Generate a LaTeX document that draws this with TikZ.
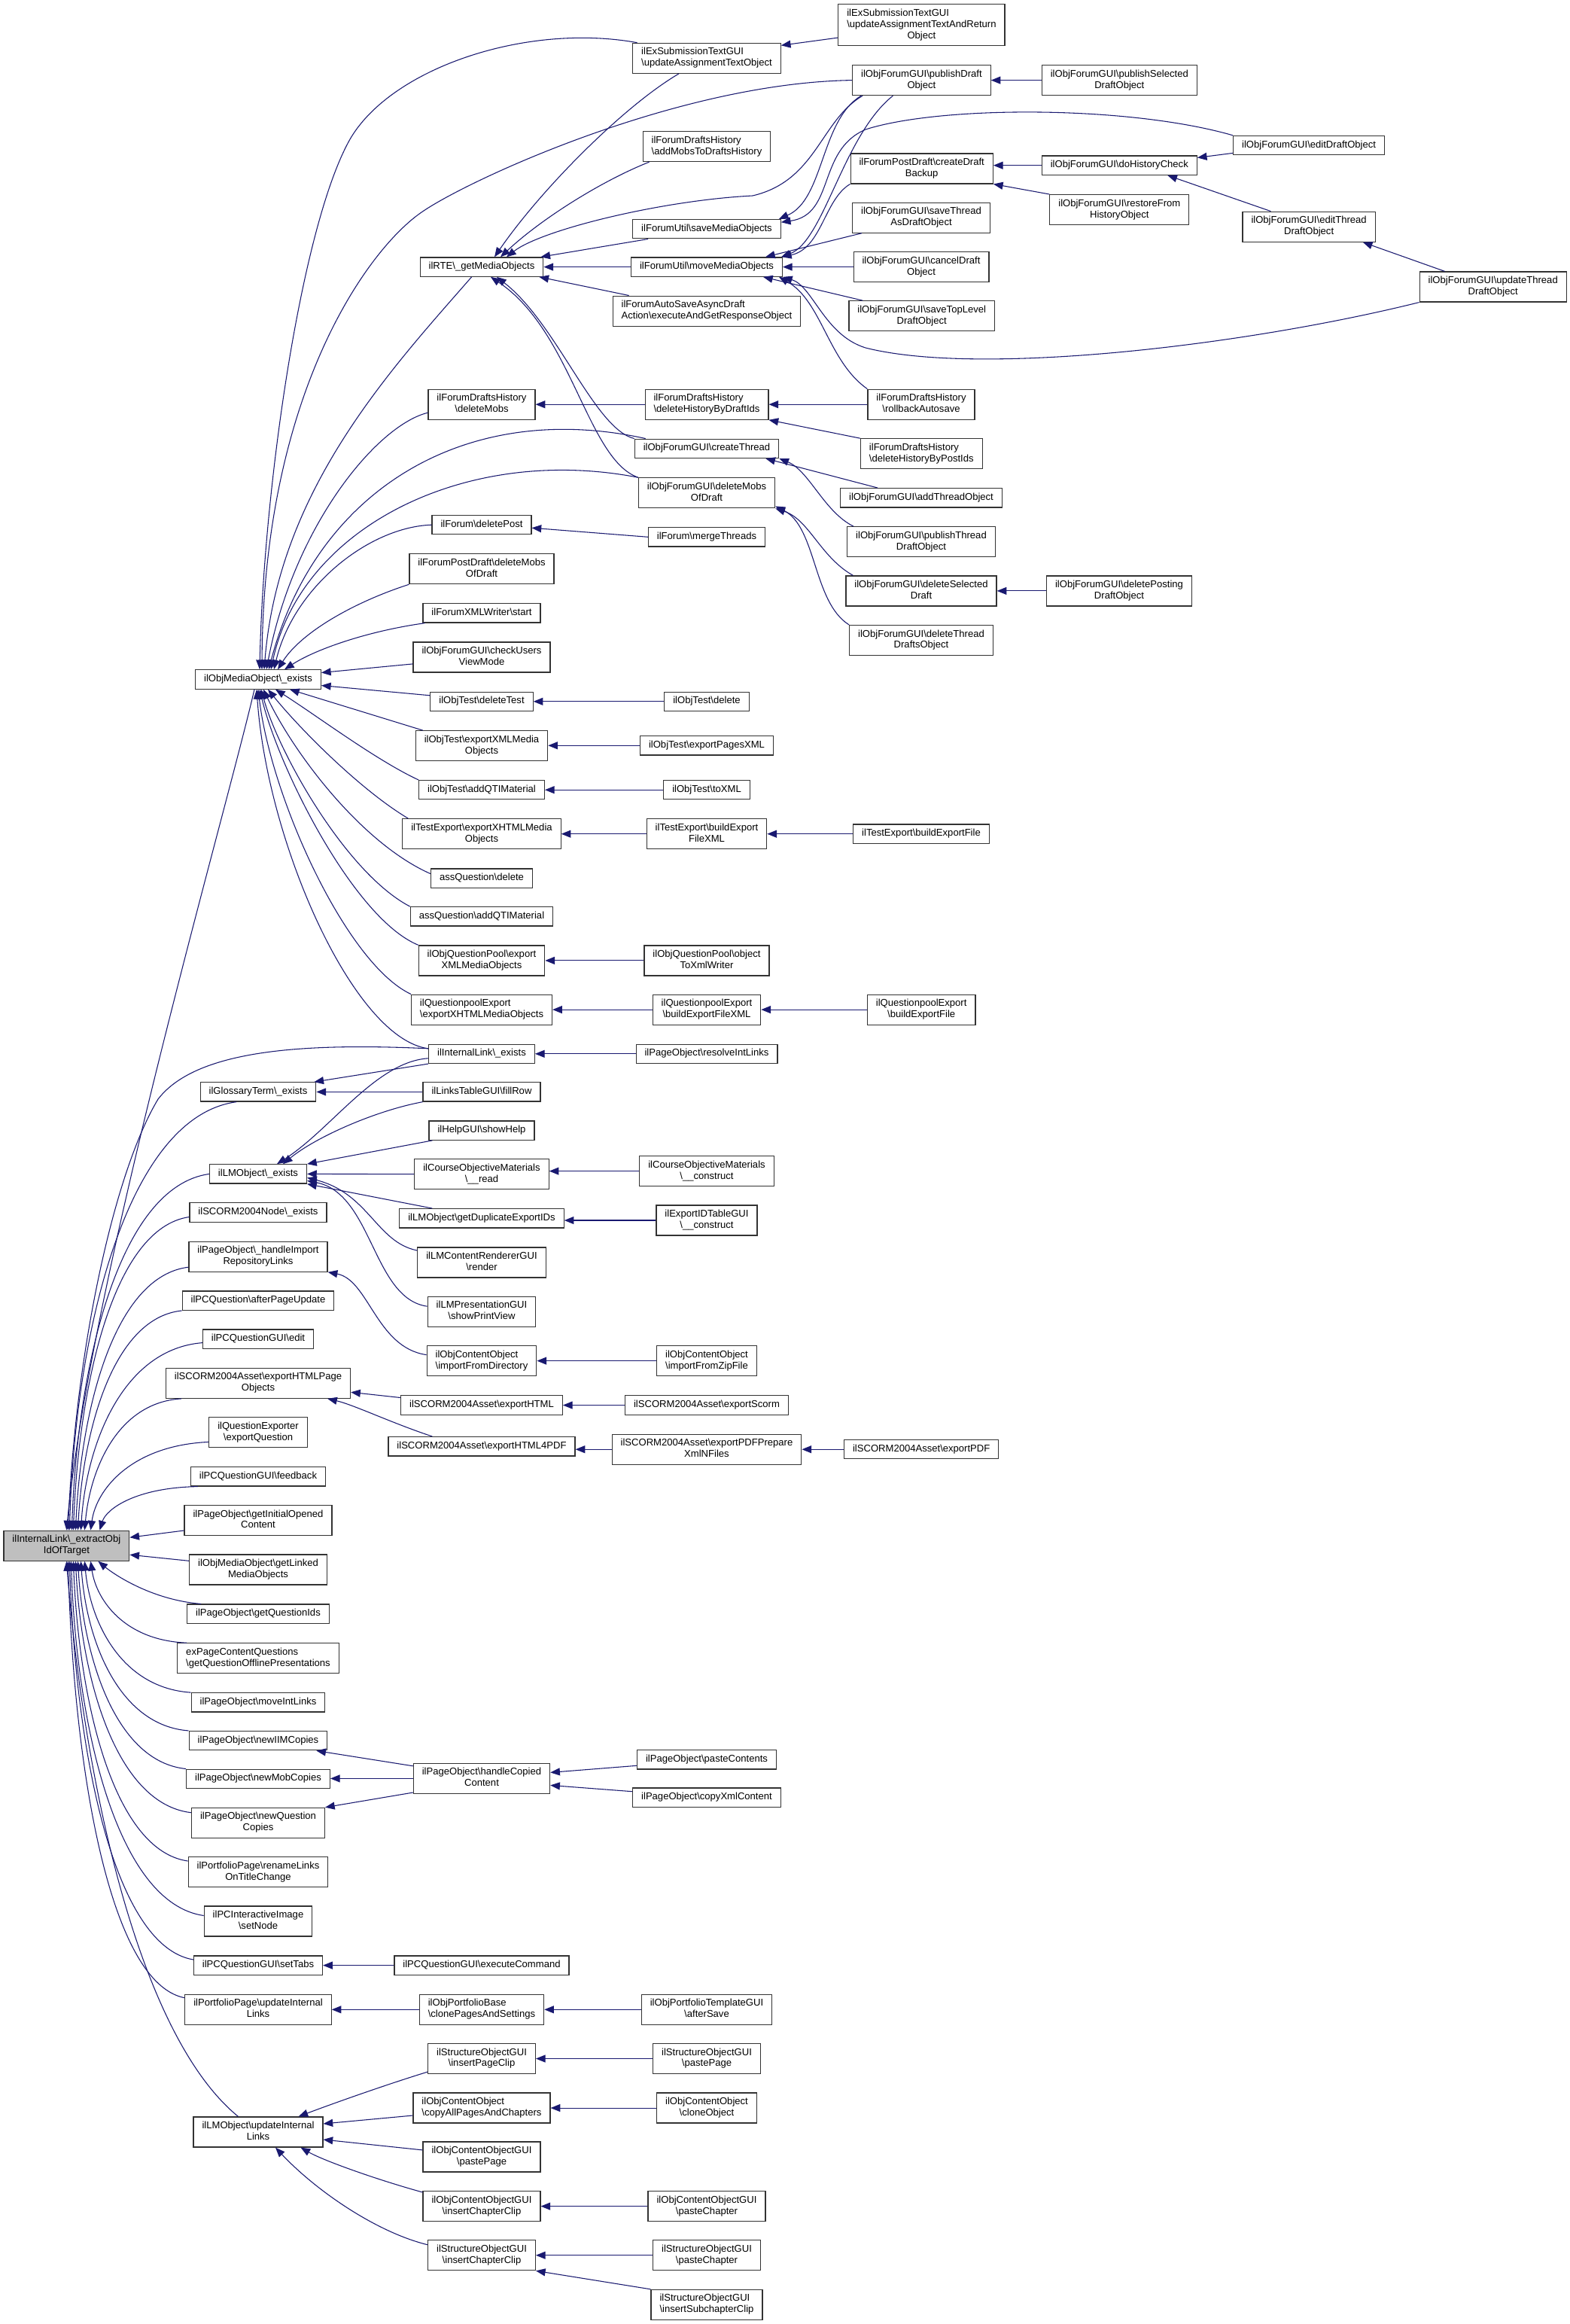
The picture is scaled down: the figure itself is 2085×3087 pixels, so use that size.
\documentclass[tikz,border=0pt]{standalone}
\usepackage{fontspec}
\setmainfont{Liberation Sans}
\usetikzlibrary{arrows.meta,calc}
\definecolor{edgeblue}{RGB}{25,25,112}
\newcommand{\nodefont}{\fontsize{9.8pt}{11.2pt}\selectfont}
\newcommand{\bsx}{\textbackslash}
\newcommand{\oneL}[1]{\begin{tabular}{@{}c@{}}#1\end{tabular}}
\newcommand{\twoL}[2]{\begin{tabular}{@{}l@{}}#1\\\multicolumn{1}{@{}c@{}}{#2}\end{tabular}}
\newcommand{\threeL}[3]{\begin{tabular}{@{}l@{}}#1\\#2\\\multicolumn{1}{@{}c@{}}{#3}\end{tabular}}
\tikzset{
  box/.style={draw=black!80, line width=0.9pt, fill=white, inner xsep=8.6pt, inner ysep=0pt, font=\nodefont},
  l1/.style={box, minimum height=19pt},
  l2/.style={box, minimum height=30pt},
  l3/.style={box, minimum height=41pt},
  call/.style={draw=edgeblue, line width=0.8pt, -{Triangle[length=9.5pt,width=7.5pt]}, fill=none},
}
\begin{document}
\begin{tikzpicture}[x=0.75pt,y=-0.75pt]
\fill[white] (0,0) rectangle (2085,3087);
\useasboundingbox (0,0) rectangle (2085,3087);

% ---------- column 1
\node[l2, fill=black!25] (E) at (88.4,2053.2) {\twoL{ilInternalLink\bsx\_extractObj}{IdOfTarget}};

% ---------- column 2
\node[l1] (M) at (343,902.5) {\oneL{ilObjMediaObject\bsx\_exists}};
\node[l1] (GT) at (343,1450.4) {\oneL{ilGlossaryTerm\bsx\_exists}};
\node[l1] (LMe) at (343,1559.4) {\oneL{ilLMObject\bsx\_exists}};
\node[l1] (SCn) at (343,1610.5) {\oneL{ilSCORM2004Node\bsx\_exists}};
\node[l2] (hIR) at (343,1669.2) {\twoL{ilPageObject\bsx\_handleImport}{RepositoryLinks}};
\node[l1] (PCu) at (343,1727.7) {\oneL{ilPCQuestion\bsx afterPageUpdate}};
\node[l1] (PCe) at (343,1778.6) {\oneL{ilPCQuestionGUI\bsx edit}};
\node[l2] (eHP) at (343,1837.3) {\twoL{ilSCORM2004Asset\bsx exportHTMLPage}{Objects}};
\node[l2] (QE) at (343,1902.8) {\twoL{ilQuestionExporter}{\bsx exportQuestion}};
\node[l1] (PCf) at (343,1961.3) {\oneL{ilPCQuestionGUI\bsx feedback}};
\node[l2] (gIO) at (343,2019.5) {\twoL{ilPageObject\bsx getInitialOpened}{Content}};
\node[l2] (gLM) at (343,2085) {\twoL{ilObjMediaObject\bsx getLinked}{MediaObjects}};
\node[l1] (gQI) at (343,2143.7) {\oneL{ilPageObject\bsx getQuestionIds}};
\node[l2] (exP) at (343,2202.8) {\twoL{exPageContentQuestions}{\bsx getQuestionOfflinePresentations}};
\node[l1] (mIL) at (343,2261.4) {\oneL{ilPageObject\bsx moveIntLinks}};
\node[l1] (nIIM) at (343,2312.2) {\oneL{ilPageObject\bsx newIIMCopies}};
\node[l1] (nMob) at (343,2362.8) {\oneL{ilPageObject\bsx newMobCopies}};
\node[l2] (nQC) at (343,2421.3) {\twoL{ilPageObject\bsx newQuestion}{Copies}};
\node[l2] (rLT) at (343,2486.6) {\twoL{ilPortfolioPage\bsx renameLinks}{OnTitleChange}};
\node[l2] (sN) at (343,2551.9) {\twoL{ilPCInteractiveImage}{\bsx setNode}};
\node[l1] (sT) at (343,2610.6) {\oneL{ilPCQuestionGUI\bsx setTabs}};
\node[l2] (pUI) at (343,2669.3) {\twoL{ilPortfolioPage\bsx updateInternal}{Links}};
\node[l2] (lUI) at (343,2832) {\twoL{ilLMObject\bsx updateInternal}{Links}};

% ---------- column 3
\node[l1] (ilRTE) at (640,354.6) {\oneL{ilRTE\bsx\_getMediaObjects}};
\node[l2] (FDHdm) at (640,537.2) {\twoL{ilForumDraftsHistory}{\bsx deleteMobs}};
\node[l1] (DP) at (640,697.2) {\oneL{ilForum\bsx deletePost}};
\node[l2] (FPDd) at (640,755.7) {\twoL{ilForumPostDraft\bsx deleteMobs}{OfDraft}};
\node[l1] (FXW) at (640,814.4) {\oneL{ilForumXMLWriter\bsx start}};
\node[l2] (CUV) at (640,872.9) {\twoL{ilObjForumGUI\bsx checkUsers}{ViewMode}};
\node[l1] (DT) at (640,931.8) {\oneL{ilObjTest\bsx deleteTest}};
\node[l2] (TXM) at (640,990.7) {\twoL{ilObjTest\bsx exportXMLMedia}{Objects}};
\node[l1] (TAQ) at (640,1049.2) {\oneL{ilObjTest\bsx addQTIMaterial}};
\node[l2] (TEX) at (640,1107.7) {\twoL{ilTestExport\bsx exportXHTMLMedia}{Objects}};
\node[l1] (AQD) at (640,1166.6) {\oneL{assQuestion\bsx delete}};
\node[l1] (AQQ) at (640,1217.4) {\oneL{assQuestion\bsx addQTIMaterial}};
\node[l2] (QPX) at (640,1275.9) {\twoL{ilObjQuestionPool\bsx export}{XMLMediaObjects}};
\node[l2] (QEX) at (640,1341.1) {\twoL{ilQuestionpoolExport}{\bsx exportXHTMLMediaObjects}};
\node[l1] (ILe) at (640,1399.8) {\oneL{ilInternalLink\bsx\_exists}};
\node[l1] (LTf) at (640,1450.4) {\oneL{ilLinksTableGUI\bsx fillRow}};
\node[l1] (HGs) at (640,1501.6) {\oneL{ilHelpGUI\bsx showHelp}};
\node[l2] (COr) at (640,1559.6) {\twoL{ilCourseObjectiveMaterials}{\bsx\_\_read}};
\node[l1] (gDE) at (640,1618.3) {\oneL{ilLMObject\bsx getDuplicateExportIDs}};
\node[l2] (LCR) at (640,1677) {\twoL{ilLMContentRendererGUI}{\bsx render}};
\node[l2] (LPs) at (640,1742.2) {\twoL{ilLMPresentationGUI}{\bsx showPrintView}};
\node[l2] (iFD) at (640,1807.6) {\twoL{ilObjContentObject}{\bsx importFromDirectory}};
\node[l1] (eH) at (640,1866.5) {\oneL{ilSCORM2004Asset\bsx exportHTML}};
\node[l1] (eH4) at (640,1921.3) {\oneL{ilSCORM2004Asset\bsx exportHTML4PDF}};
\node[l2] (hCC) at (640,2362.4) {\twoL{ilPageObject\bsx handleCopied}{Content}};
\node[l1] (eC) at (640,2610.6) {\oneL{ilPCQuestionGUI\bsx executeCommand}};
\node[l2] (cPS) at (640,2669.3) {\twoL{ilObjPortfolioBase}{\bsx clonePagesAndSettings}};
\node[l2] (iPC) at (640,2734.5) {\twoL{ilStructureObjectGUI}{\bsx insertPageClip}};
\node[l2] (cAP) at (640,2800) {\twoL{ilObjContentObject}{\bsx copyAllPagesAndChapters}};
\node[l2] (cgP) at (640,2864.9) {\twoL{ilObjContentObjectGUI}{\bsx pastePage}};
\node[l2] (cgI) at (640,2930.6) {\twoL{ilObjContentObjectGUI}{\bsx insertChapterClip}};
\node[l2] (sgI) at (640,2995.7) {\twoL{ilStructureObjectGUI}{\bsx insertChapterClip}};

% ---------- column 4
\node[l2] (UATO) at (939,77.3) {\twoL{ilExSubmissionTextGUI}{\bsx updateAssignmentTextObject}};
\node[l2] (ADH) at (939,194.6) {\twoL{ilForumDraftsHistory}{\bsx addMobsToDraftsHistory}};
\node[l1] (SMO) at (939,304.2) {\oneL{ilForumUtil\bsx saveMediaObjects}};
\node[l1] (MMO) at (939,354.6) {\oneL{ilForumUtil\bsx moveMediaObjects}};
\node[l2] (ASD) at (939,413.1) {\twoL{ilForumAutoSaveAsyncDraft}{Action\bsx executeAndGetResponseObject}};
\node[l2] (DHD) at (939,537.2) {\twoL{ilForumDraftsHistory}{\bsx deleteHistoryByDraftIds}};
\node[l1] (CT) at (939,595.8) {\oneL{ilObjForumGUI\bsx createThread}};
\node[l2] (DMD) at (939,654.8) {\twoL{ilObjForumGUI\bsx deleteMobs}{OfDraft}};
\node[l1] (MT) at (939,713.3) {\oneL{ilForum\bsx mergeThreads}};
\node[l1] (Td) at (939,931.8) {\oneL{ilObjTest\bsx delete}};
\node[l1] (TPX) at (939,990.3) {\oneL{ilObjTest\bsx exportPagesXML}};
\node[l1] (TtX) at (939,1049.2) {\oneL{ilObjTest\bsx toXML}};
\node[l2] (TBX) at (939,1107.7) {\twoL{ilTestExport\bsx buildExport}{FileXML}};
\node[l2] (QPo) at (939,1275.9) {\twoL{ilObjQuestionPool\bsx object}{ToXmlWriter}};
\node[l2] (QBX) at (939,1341.1) {\twoL{ilQuestionpoolExport}{\bsx buildExportFileXML}};
\node[l1] (PrI) at (939,1399.8) {\oneL{ilPageObject\bsx resolveIntLinks}};
\node[l2] (COc) at (939,1555.6) {\twoL{ilCourseObjectiveMaterials}{\bsx\_\_construct}};
\node[l2] (EIc) at (939,1621) {\twoL{ilExportIDTableGUI}{\bsx\_\_construct}};
\node[l2] (iZF) at (939,1807.6) {\twoL{ilObjContentObject}{\bsx importFromZipFile}};
\node[l1] (eS) at (939,1866.5) {\oneL{ilSCORM2004Asset\bsx exportScorm}};
\node[l2] (ePX) at (939,1925.2) {\twoL{ilSCORM2004Asset\bsx exportPDFPrepare}{XmlNFiles}};
\node[l1] (pC) at (939,2337.3) {\oneL{ilPageObject\bsx pasteContents}};
\node[l1] (cXC) at (939,2387.7) {\oneL{ilPageObject\bsx copyXmlContent}};
\node[l2] (aS) at (939,2669.3) {\twoL{ilObjPortfolioTemplateGUI}{\bsx afterSave}};
\node[l2] (sPP) at (939,2734.5) {\twoL{ilStructureObjectGUI}{\bsx pastePage}};
\node[l2] (cO) at (939,2800) {\twoL{ilObjContentObject}{\bsx cloneObject}};
\node[l2] (cgPC) at (939,2930.6) {\twoL{ilObjContentObjectGUI}{\bsx pasteChapter}};
\node[l2] (sPC) at (939,2995.7) {\twoL{ilStructureObjectGUI}{\bsx pasteChapter}};
\node[l2] (sSC) at (939,3061.4) {\twoL{ilStructureObjectGUI}{\bsx insertSubchapterClip}};

% ---------- column 5
\node[l3] (UATR) at (1224.4,33.1) {\threeL{ilExSubmissionTextGUI}{\bsx updateAssignmentTextAndReturn}{Object}};
\node[l2] (PDO) at (1224.4,106.6) {\twoL{ilObjForumGUI\bsx publishDraft}{Object}};
\node[l2] (CDB) at (1224.7,223.9) {\twoL{ilForumPostDraft\bsx createDraft}{Backup}};
\node[l2] (STD) at (1224,289.1) {\twoL{ilObjForumGUI\bsx saveThread}{AsDraftObject}};
\node[l2] (CDO) at (1224,354.6) {\twoL{ilObjForumGUI\bsx cancelDraft}{Object}};
\node[l2] (STL) at (1224.7,419.8) {\twoL{ilObjForumGUI\bsx saveTopLevel}{DraftObject}};
\node[l2] (RA) at (1224,537.2) {\twoL{ilForumDraftsHistory}{\bsx rollbackAutosave}};
\node[l2] (DHP) at (1224.3,602.8) {\twoL{ilForumDraftsHistory}{\bsx deleteHistoryByPostIds}};
\node[l1] (ATO) at (1224,661.3) {\oneL{ilObjForumGUI\bsx addThreadObject}};
\node[l2] (PTD) at (1224,719.8) {\twoL{ilObjForumGUI\bsx publishThread}{DraftObject}};
\node[l2] (DSD) at (1224,784.9) {\twoL{ilObjForumGUI\bsx deleteSelected}{Draft}};
\node[l2] (DTD) at (1224,850.5) {\twoL{ilObjForumGUI\bsx deleteThread}{DraftsObject}};
\node[l1] (TBF) at (1224,1107.7) {\oneL{ilTestExport\bsx buildExportFile}};
\node[l2] (QBF) at (1224.2,1341.1) {\twoL{ilQuestionpoolExport}{\bsx buildExportFile}};
\node[l1] (ePDF) at (1224.2,1925.2) {\oneL{ilSCORM2004Asset\bsx exportPDF}};

% ---------- columns 6-8
\node[l2] (PSD) at (1487.3,106.6) {\twoL{ilObjForumGUI\bsx publishSelected}{DraftObject}};
\node[l1] (DHC) at (1487.3,219.7) {\oneL{ilObjForumGUI\bsx doHistoryCheck}};
\node[l2] (RFH) at (1487.3,278.6) {\twoL{ilObjForumGUI\bsx restoreFrom}{HistoryObject}};
\node[l2] (DPD) at (1487,784.9) {\twoL{ilObjForumGUI\bsx deletePosting}{DraftObject}};
\node[l1] (EDO) at (1739.1,193.1) {\oneL{ilObjForumGUI\bsx editDraftObject}};
\node[l2] (ETD) at (1739.1,301.2) {\twoL{ilObjForumGUI\bsx editThread}{DraftObject}};
\node[l2] (UTD) at (1983.7,381) {\twoL{ilObjForumGUI\bsx updateThread}{DraftObject}};

% ================= edges
% right-hand forum part
\draw[call] ($(UATR.west)+(0,17)$) -- ($(UATO.east)+(0,-17)$);
\draw[call] (PSD.west) -- (PDO.east);
\draw[call] (DHC.west) -- (DHC.west -| CDB.east);
\draw[call] (RFH.north west) -- (CDB.south east);
\draw[call] ($(EDO.south west)+(0,-3)$) -- ($(DHC.north east)+(0,3)$);
\draw[call] ($(ETD.north west)+(38,0)$) -- ($(DHC.south)+(64,0)$);
\draw[call] ($(UTD.north west)+(34,0)$) -- ($(ETD.south east)+(-17,0)$);
\draw[call] (DHD.west) -- (FDHdm.east);
\draw[call] (RA.west) -- (DHD.east);
\draw[call] (DHP.north west) -- (DHD.south east);
\draw[call] ($(ATO.north west)+(50,0)$) -- ($(CT.south east)+(-18,0)$);
\draw[call] ($(PTD.north west)+(9,0)$) .. controls (1095,680) and (1075,625) .. (CT.south east);
\draw[call] ($(DSD.north west)+(10,0)$) .. controls (1090,740) and (1075,690) .. (DMD.south east);
\draw[call] (DTD.north west) .. controls (1080,800) and (1085,700) .. ($(DMD.south east)+(0,-3)$);
\draw[call] (DPD.west) -- (DSD.east);
\draw[call] (MT.west) -- ($(DP.east)+(0,4)$);

% into ilRTE
\draw[call] ($(UATO.south)+(-37,0)$) .. controls (830,140) and (720,250) .. ($(ilRTE.north)+(17,0)$);
\draw[call] ($(ADH.south west)+(9,0)$) .. controls (800,240) and (720,290) .. ($(ilRTE.north)+(25,0)$);
\draw[call] ($(PDO.south west)+(14,0)$) .. controls (1090,160) and (1085,240) .. (1000,260) .. controls (880,266) and (720,305) .. ($(ilRTE.north)+(33,0)$);
\draw[call] ($(SMO.south west)+(21,0)$) -- ($(ilRTE.north east)+(-4,0)$);
\draw[call] (MMO.west) -- (ilRTE.east);
\draw[call] ($(ASD.north west)+(22,0)$) -- ($(ilRTE.south east)+(-6,0)$);
\draw[call] (CT.north west) .. controls (790,570) and (740,430) .. ($(ilRTE.south)+(20,0)$);
\draw[call] (DMD.north west) .. controls (780,610) and (760,440) .. ($(ilRTE.south)+(12,0)$);

% into saveMediaObjects / moveMediaObjects
\draw[call] ($(PDO.south west)+(12,0)$) .. controls (1090,160) and (1095,265) .. ($(SMO.north east)+(-3,0)$);
\draw[call] (EDO.north west) .. controls (1500,140) and (1250,140) .. (1150,172) .. controls (1085,200) and (1110,285) .. ($(SMO.east)+(0,-9)$);
\draw[call] ($(PDO.south)+(-38,0)$) .. controls (1120,180) and (1095,320) .. ($(MMO.north east)+(-2,0)$);
\draw[call] (CDB.south west) .. controls (1095,265) and (1092,330) .. ($(MMO.north east)+(-1,0)$);
\draw[call] ($(STD.south west)+(13,0)$) -- ($(MMO.north east)+(-23,0)$);
\draw[call] (CDO.west) -- (MMO.east);
\draw[call] ($(STL.north west)+(19,0)$) -- ($(MMO.south east)+(-26,0)$);
\draw[call] (UTD.south west) .. controls (1650,460) and (1300,500) .. (1150,462) .. controls (1095,445) and (1080,380) .. (MMO.south east);
\draw[call] (RA.north west) .. controls (1100,480) and (1092,400) .. ($(MMO.south east)+(-5,0)$);

% test / question part
\draw[call] (Td.west) -- (DT.east);
\draw[call] (TPX.west) -- (TPX.west -| TXM.east);
\draw[call] (TtX.west) -- (TAQ.east);
\draw[call] (TBX.west) -- (TEX.east);
\draw[call] (TBF.west) -- (TBX.east);
\draw[call] (QPo.west) -- (QPX.east);
\draw[call] (QBX.west) -- (QEX.east);
\draw[call] (QBF.west) -- (QBX.east);
\draw[call] (PrI.west) -- (ILe.east);

% glossary / LM
\draw[call] (LTf.west) -- (LTf.west -| GT.east);
\draw[call] (ILe.south west) -- ($(GT.north east)+(-3,0)$);
\draw[call] ($(ILe.west)+(0,6)$) .. controls (500,1410) and (440,1500) .. ($(LMe.north)+(25,0)$);
\draw[call] (LTf.south west) .. controls (500,1475) and (420,1510) .. ($(LMe.north)+(33,0)$);
\draw[call] ($(HGs.south west)+(5,0)$) -- (LMe.north east);
\draw[call] (COr.west) -- (LMe.east);
\draw[call] ($(gDE.north west)+(44,0)$) -- (LMe.south east);
\draw[call] ($(LCR.west)+(0,-16)$) .. controls (500,1650) and (490,1585) .. ($(LMe.east)+(0,5)$);
\draw[call] ($(LPs.west)+(0,-7)$) .. controls (495,1725) and (495,1585) .. ($(LMe.east)+(0,9)$);
\draw[call] (COc.west) -- (COc.west -| COr.east);
\draw[call] (EIc.west) -- (EIc.west -| gDE.east);
\draw[call] ($(iFD.west)+(0,-8)$) .. controls (500,1790) and (490,1700) .. (hIR.south east);
\draw[call] (iZF.west) -- (iFD.east);

% SCORM
\draw[call] ($(eH.west)+(0,-10)$) -- ($(eHP.east)+(0,12)$);
\draw[call] ($(eH4.north west)+(59,0)$) .. controls (520,1890) and (470,1866) .. ($(eHP.south east)+(-31,0)$);
\draw[call] (eS.west) -- (eH.east);
\draw[call] (ePX.west) -- (ePX.west -| eH4.east);
\draw[call] (ePDF.west) -- (ePX.east);

% page object copies
\draw[call] ($(hCC.north west)+(0,4)$) -- ($(nIIM.south east)+(-15,0)$);
\draw[call] (hCC.west) -- (hCC.west -| nMob.east);
\draw[call] ($(hCC.south west)+(0,-2)$) -- (nQC.north east);
\draw[call] ($(pC.west)+(0,8)$) -- ($(hCC.east)+(0,-8)$);
\draw[call] ($(cXC.west)+(0,-8)$) -- ($(hCC.east)+(0,9)$);

% portfolio / LM update
\draw[call] (eC.west) -- (sT.east);
\draw[call] (cPS.west) -- (pUI.east);
\draw[call] (aS.west) -- (cPS.east);
\draw[call] ($(iPC.south west)+(0,-3)$) .. controls (510,2770) and (440,2795) .. ($(lUI.north east)+(-33,0)$);
\draw[call] ($(cAP.west)+(0,10)$) -- ($(lUI.east)+(0,-11)$);
\draw[call] ($(cgP.west)+(0,-9)$) -- ($(lUI.east)+(0,10)$);
\draw[call] ($(cgI.north west)+(0,2)$) .. controls (500,2895) and (430,2870) .. ($(lUI.south east)+(-30,0)$);
\draw[call] ($(sgI.west)+(0,-14)$) .. controls (500,2965) and (420,2910) .. ($(lUI.south)+(23,0)$);
\draw[call] (sPP.west) -- (iPC.east);
\draw[call] (cO.west) -- (cAP.east);
\draw[call] (cgPC.west) -- (cgI.east);
\draw[call] (sPC.west) -- (sgI.east);
\draw[call] (sSC.north west) -- (sgI.south east);

% into ilObjMediaObject::_exists
\draw[call] ($(UATO.north west)+(6.5,0)$) .. controls (700,30) and (520,90) .. (465,185) .. controls (400,300) and (350,650) .. ($(M.north)+(2,0)$);
\draw[call] (PDO.west) .. controls (900,110) and (620,240) .. (560,282) .. controls (490,330) and (350,520) .. ($(M.north)+(5,0)$);
\draw[call] ($(ilRTE.south west)+(69,0)$) .. controls (520,490) and (370,650) .. ($(M.north)+(8,0)$);
\draw[call] ($(FDHdm.west)+(0,11)$) .. controls (500,565) and (390,700) .. ($(M.north)+(11,0)$);
\draw[call] ($(CT.north west)+(15,0)$) .. controls (620,530) and (420,650) .. ($(M.north)+(14,0)$);
\draw[call] (DMD.north west) .. controls (620,590) and (400,700) .. ($(M.north)+(17,0)$);
\draw[call] (DP.west) .. controls (490,700) and (390,780) .. ($(M.north)+(21,0)$);
\draw[call] (FPDd.south west) .. controls (470,800) and (400,840) .. ($(M.north)+(26,0)$);
\draw[call] ($(FXW.south west)+(3,0)$) .. controls (490,838) and (420,862) .. ($(M.north)+(35,0)$);
\draw[call] ($(CUV.west)+(0,9)$) -- ($(M.east)+(0,-9)$);
\draw[call] ($(DT.west)+(0,-8)$) -- ($(M.east)+(0,8)$);
\draw[call] ($(TXM.north west)+(10,0)$) -- ($(M.south east)+(-42,0)$);
\draw[call] (TAQ.north west) .. controls (500,1010) and (420,950) .. ($(M.south)+(23,0)$);
\draw[call] ($(TEX.north west)+(8,0)$) .. controls (480,1050) and (400,970) .. ($(M.south)+(13,0)$);
\draw[call] ($(AQD.west)+(0,-6)$) .. controls (480,1120) and (390,1000) .. ($(M.south)+(7,0)$);
\draw[call] (AQQ.north west) .. controls (460,1160) and (370,1000) .. ($(M.south)+(4,0)$);
\draw[call] (QPX.north west) .. controls (470,1220) and (370,1020) .. ($(M.south)+(2,0)$);
\draw[call] (QEX.north west) .. controls (460,1280) and (360,1060) .. (M.south);
\draw[call] ($(ILe.west)+(0,-7)$) .. controls (470,1380) and (355,1120) .. ($(M.south)+(-2,0)$);

% into ilInternalLink::_extractObjIdOfTarget
\draw[call] ($(M.south)+(-5,0)$) .. controls (300,1080) and (120,1700) .. (E.north);
\draw[call] ($(ILe.west)+(0,-7)$) .. controls (400,1385) and (260,1395) .. (210,1460) .. controls (150,1560) and (100,1800) .. ($(E.north)+(2,0)$);
\draw[call] ($(GT.south west)+(48.5,0)$) .. controls (170,1483) and (100,1765) .. ($(E.north)+(4,0)$);
\draw[call] (LMe.west) .. controls (159,1576) and (103,1810) .. ($(E.north)+(7,0)$);
\draw[call] ($(SCn.west)+(0,6)$) .. controls (151,1631) and (105,1837) .. ($(E.north)+(9,0)$);
\draw[call] ($(hIR.west)+(0,14)$) .. controls (153,1695) and (108,1868) .. ($(E.north)+(12,0)$);
\draw[call] (PCu.south west) .. controls (152,1750) and (111,1895) .. ($(E.north)+(15,0)$);
\draw[call] ($(PCe.west)+(0,5)$) .. controls (164,1792) and (115,1916) .. ($(E.north)+(19,0)$);
\draw[call] ($(eHP.south west)+(21,0)$) .. controls (157,1863) and (120,1950) .. ($(E.north)+(24,0)$);
\draw[call] ($(QE.west)+(0,12.6)$) .. controls (175,1920) and (128,1978) .. ($(E.north)+(32,0)$);
\draw[call] ($(PCf.south west)+(10,0)$) .. controls (179,1976) and (141,2005) .. ($(E.north)+(44,0)$);
\draw[call] ($(gIO.west)+(0,13.5)$) -- ($(E.east)+(0,-11)$);
\draw[call] ($(gLM.west)+(0,-11.7)$) -- ($(E.east)+(0,12)$);
\draw[call] ($(gQI.north west)+(19,0)$) .. controls (200,2125) and (150,2090) .. ($(E.south)+(42,0)$);
\draw[call] ($(exP.north west)+(13,0)$) .. controls (165,2179) and (128,2125) .. ($(E.south)+(32,0)$);
\draw[call] (mIL.north west) .. controls (162,2242) and (120,2156) .. ($(E.south)+(24,0)$);
\draw[call] (nIIM.north west) .. controls (158,2292) and (115,2180) .. ($(E.south)+(19,0)$);
\draw[call] (nMob.north west) .. controls (154,2340) and (111,2203) .. ($(E.south)+(15,0)$);
\draw[call] ($(nQC.north west)+(0,7)$) .. controls (154,2396) and (108,2230) .. ($(E.south)+(12,0)$);
\draw[call] ($(rLT.north west)+(0,6)$) .. controls (151,2458) and (105,2261) .. ($(E.south)+(9,0)$);
\draw[call] ($(sN.west)+(0,-7.4)$) .. controls (156,2528) and (102,2295) .. ($(E.south)+(6,0)$);
\draw[call] ($(sT.west)+(0,-7.6)$) .. controls (150,2585) and (100,2322) .. ($(E.south)+(4,0)$);
\draw[call] ($(pUI.north west)+(0,5)$) .. controls (145,2634) and (98,2346) .. ($(E.south)+(2,0)$);
\draw[call] ($(lUI.north)+(-26.5,0)$) .. controls (180,2700) and (110,2350) .. (E.south);
\end{tikzpicture}
\end{document}
